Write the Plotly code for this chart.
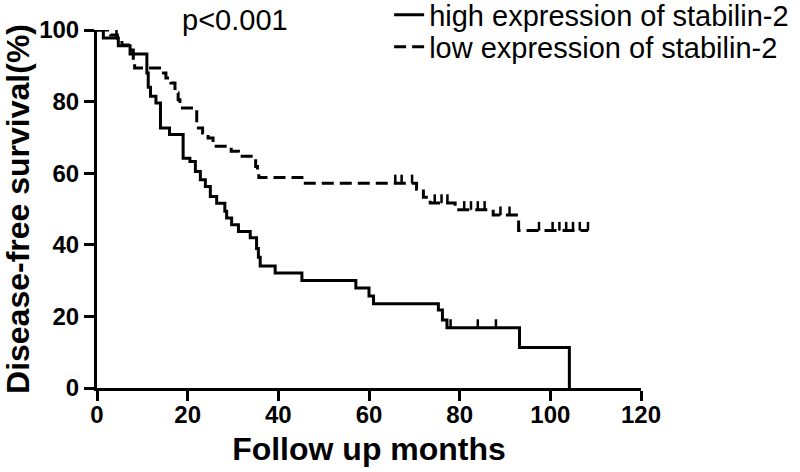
import plotly.graph_objects as go

# High expression of stabilin-2 (solid) : step times (months) and survival (%)
high_t = [0, 1.4, 4.7, 7.3, 11.0, 11.3, 11.8, 13.0, 14.0, 16.0, 19.0, 20.5, 21.7, 22.8, 23.9, 25.0,
          26.4, 28.2, 28.6, 29.7, 31.2, 33.8, 35.2, 35.6, 36.0, 39.3, 45.2, 57.1, 60.0, 61.0,
          75.3, 76.2, 77.2, 93.2, 104.2]
high_s = [100, 97.8, 95.6, 93.3, 88.0, 84.0, 81.5, 79.6, 72.6, 70.8, 64.2, 63.3, 60.5, 58.2, 56.3, 53.5,
          51.6, 49.4, 47.5, 45.6, 43.7, 42.0, 39.0, 36.5, 34.1, 32.1, 30.0, 27.9, 25.7, 23.5,
          21.8, 19.0, 16.8, 11.3, 0]
high_cens_t = [4.3, 78.0, 84.0, 88.0]
high_cens_s = [97.8, 16.8, 16.8, 16.8]

# Low expression of stabilin-2 (dashed)
low_t = [0, 3.0, 4.5, 5.5, 7.3, 8.0, 8.3, 14.2, 15.2, 16.3, 17.2, 17.9, 18.3, 22.0, 23.3, 24.5, 25.6,
         29.6, 31.2, 35.0, 35.4, 35.7, 45.2, 70.5, 72.0, 73.5, 79.0, 87.4, 93.0, 108.3]
low_s = [100, 98.6, 97.2, 95.8, 94.4, 91.6, 89.4, 88.0, 86.6, 85.2, 82.4, 80.5, 78.2, 72.6, 71.2, 69.8, 67.5,
         66.1, 64.7, 61.9, 60.5, 58.8, 57.2, 55.5, 53.3, 51.7, 49.8, 48.3, 44.0, 44.0]
low_cens_t = [65.8, 67.2, 69.5, 74.5, 76.0, 77.3, 81.0, 82.5, 84.0, 85.5, 89.0, 91.0,
              97.5, 100.5, 102.0, 103.5, 105.0, 106.5, 108.3]
low_cens_s = [57.2, 57.2, 57.2, 51.7, 51.7, 51.7, 49.8, 49.8, 49.8, 49.8, 48.3, 48.3,
              44.0, 44.0, 44.0, 44.0, 44.0, 44.0, 44.0]

x_ticks = [0, 20, 40, 60, 80, 100, 120]
y_ticks = [0, 20, 40, 60, 80, 100]

FONT = "Liberation Sans, Arial, sans-serif"
tick_err = dict(type="constant", value=2.4, symmetric=False, valueminus=0,
                width=0, thickness=2.5, color="black")

fig = go.Figure()
fig.add_trace(go.Scatter(x=high_t, y=high_s, mode="lines", line=dict(shape="hv", color="black", width=3),
                         name="high expression of stabilin-2", legend="legend"))
fig.add_trace(go.Scatter(x=low_t, y=low_s, mode="lines",
                         line=dict(shape="hv", color="black", width=3, dash="12px,6px"),
                         name="low expression of stabilin-2", legend="legend2"))
fig.add_trace(go.Scatter(x=high_cens_t, y=high_cens_s, mode="markers", marker=dict(size=1, color="black"),
                         error_y=tick_err, showlegend=False, hoverinfo="skip"))
fig.add_trace(go.Scatter(x=low_cens_t, y=low_cens_s, mode="markers", marker=dict(size=1, color="black"),
                         error_y=tick_err, showlegend=False, hoverinfo="skip"))

axis_common = dict(showline=True, linecolor="black", linewidth=3, ticks="outside", ticklen=10,
                   tickwidth=3, tickcolor="black", showgrid=False, zeroline=False, automargin=False,
                   tickfont=dict(family=FONT, size=24, color="black", weight="bold"))

legend_common = dict(xanchor="left", yanchor="middle", bgcolor="rgba(0,0,0,0)",
                     font=dict(family=FONT, size=29, color="black"), itemwidth=30)

fig.update_layout(
    width=800, height=472,
    margin=dict(l=97, r=159, t=30, b=84, autoexpand=False),
    plot_bgcolor="white", paper_bgcolor="white",
    xaxis=dict(range=[0, 120], tickvals=x_ticks, ticklabelstandoff=-7, **axis_common,
               title=dict(text="Follow up months", standoff=11,
                          font=dict(family=FONT, size=32, color="black", weight="bold"))),
    yaxis=dict(range=[0, 100], tickvals=y_ticks, **axis_common,
               title=dict(text="Disease-free survival(%)", standoff=10,
                          font=dict(family=FONT, size=32, color="black", weight="bold"))),
    legend=dict(x=0.537, y=1.042, **legend_common),
    legend2=dict(x=0.537, y=0.9525, **legend_common),
    annotations=[dict(text="p<0.001", xref="paper", yref="paper", x=0.254, y=1.028,
                      xanchor="center", yanchor="middle", showarrow=False,
                      font=dict(family=FONT, size=29, color="black"))],
)

fig.write_html("out.html", config={"displayModeBar": False},
               post_script="document.body.style.margin='0';")
